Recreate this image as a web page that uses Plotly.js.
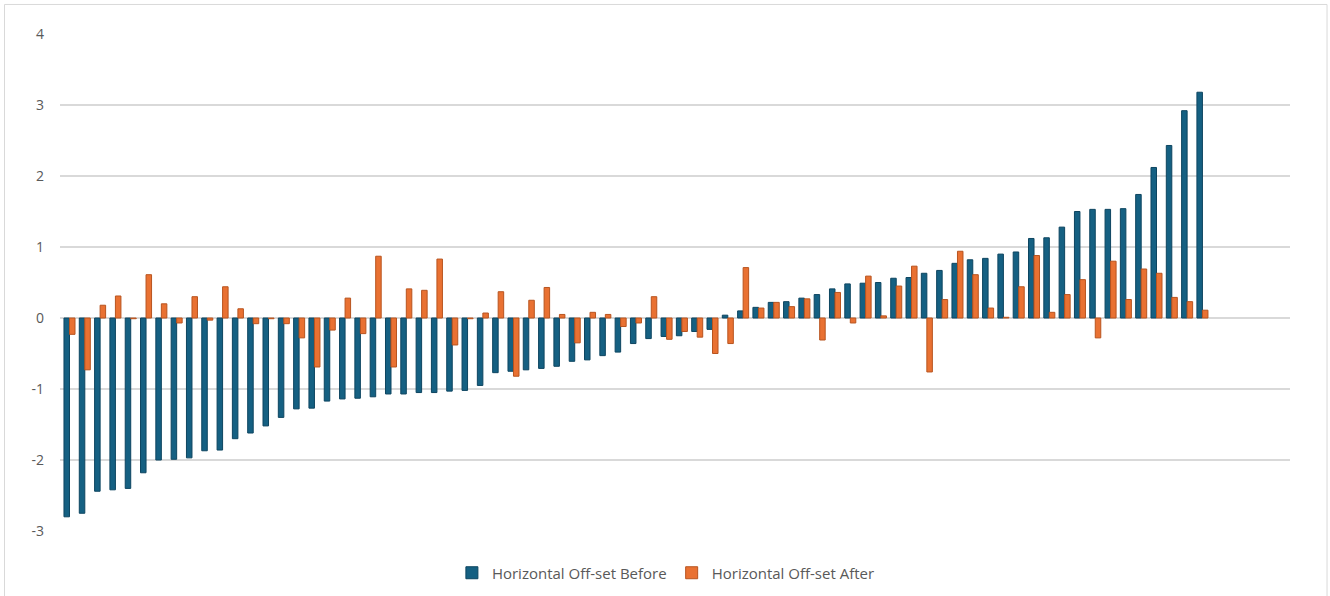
<!DOCTYPE html>
<html>
<head>
<meta charset="utf-8">
<script src="https://cdn.plot.ly/plotly-3.0.1.min.js"></script>
<style>
  html, body { margin: 0; padding: 0; background: #ffffff; }
  #chart { width: 1330px; height: 596px; }
</style>
</head>
<body>
<div id="chart"></div>
<script>
// Sample index (one group of two columns per sample)
const samples = Array.from({length: 75}, (_, i) => i + 1);

// Horizontal off-set before correction, sorted ascending
const offsetBefore = [
  -2.80, -2.75, -2.44, -2.42, -2.40, -2.18, -2.00, -1.99, -1.97, -1.87,
  -1.86, -1.70, -1.62, -1.52, -1.40, -1.28, -1.27, -1.17, -1.14, -1.13,
  -1.11, -1.07, -1.07, -1.05, -1.05, -1.03, -1.02, -0.95, -0.77, -0.75,
  -0.73, -0.71, -0.68, -0.61, -0.59, -0.53, -0.48, -0.36, -0.29, -0.26,
  -0.25, -0.19, -0.16, 0.04, 0.10, 0.15, 0.22, 0.23, 0.28, 0.33,
  0.41, 0.48, 0.49, 0.50, 0.56, 0.57, 0.63, 0.67, 0.77, 0.82,
  0.84, 0.90, 0.93, 1.12, 1.13, 1.28, 1.50, 1.53, 1.53, 1.54,
  1.74, 2.12, 2.43, 2.92, 3.18
];

// Horizontal off-set after correction, same samples
const offsetAfter = [
  -0.23, -0.73, 0.18, 0.31, -0.01, 0.61, 0.20, -0.07, 0.30, -0.03,
  0.44, 0.13, -0.08, -0.01, -0.08, -0.28, -0.69, -0.17, 0.28, -0.22,
  0.87, -0.69, 0.41, 0.39, 0.83, -0.38, -0.01, 0.07, 0.37, -0.82,
  0.25, 0.43, 0.05, -0.35, 0.08, 0.05, -0.12, -0.07, 0.30, -0.30,
  -0.19, -0.27, -0.50, -0.36, 0.71, 0.14, 0.22, 0.16, 0.27, -0.31,
  0.36, -0.07, 0.59, 0.03, 0.45, 0.73, -0.76, 0.26, 0.94, 0.61,
  0.14, 0.01, 0.44, 0.88, 0.08, 0.33, 0.54, -0.28, 0.80, 0.26,
  0.69, 0.63, 0.29, 0.23, 0.11
];

const seriesNames = ['Horizontal Off-set Before', 'Horizontal Off-set After'];
const yTicks = [-3, -2, -1, 0, 1, 2, 3, 4];

const textColor = '#595959';
const gridColor = '#D9D9D9';
const fontFamily = '"Open Sans", "Liberation Sans", Arial, sans-serif';

const traces = [
  {
    type: 'bar',
    name: seriesNames[0],
    x: samples,
    y: offsetBefore,
    marker: { color: '#156082', line: { color: '#0D4560', width: 1 } },
    hoverinfo: 'y'
  },
  {
    type: 'bar',
    name: seriesNames[1],
    x: samples,
    y: offsetAfter,
    marker: { color: '#E97132', line: { color: '#B8541F', width: 1 } },
    hoverinfo: 'y'
  }
];

const layout = {
  width: 1330,
  height: 596,
  margin: { l: 60, r: 40, t: 34, b: 65 },
  paper_bgcolor: '#ffffff',
  plot_bgcolor: '#ffffff',
  font: { family: fontFamily, size: 14, color: textColor },
  barmode: 'group',
  bargap: 0.28,
  bargroupgap: 0,
  showlegend: true,
  legend: {
    orientation: 'h',
    x: 0.4926,
    xanchor: 'center',
    yref: 'container',
    y: 0.0386,
    yanchor: 'middle',
    font: { family: fontFamily, size: 15, color: textColor },
    itemwidth: 30,
    traceorder: 'normal'
  },
  xaxis: {
    type: 'linear',
    range: [0.38, 80.72],
    showgrid: false,
    zeroline: false,
    showline: false,
    showticklabels: false,
    ticks: ''
  },
  yaxis: {
    range: [-3, 4],
    tickvals: yTicks,
    ticktext: yTicks.map(String),
    showgrid: true,
    gridcolor: gridColor,
    gridwidth: 1.5,
    zeroline: true,
    zerolinecolor: gridColor,
    zerolinewidth: 1.5,
    showline: false,
    ticks: '',
    ticklabelstandoff: 15,
    tickfont: { family: fontFamily, size: 14, color: textColor }
  },
  shapes: [
    {
      type: 'rect',
      xref: 'paper', yref: 'paper',
      x0: -0.0451, x1: 1.0301,
      y0: -0.14, y1: 1.0594,
      line: { color: '#D9D9D9', width: 1 },
      fillcolor: 'rgba(0,0,0,0)',
      layer: 'below'
    }
  ]
};

Plotly.newPlot('chart', traces, layout, { displayModeBar: false, staticPlot: true });
</script>
</body>
</html>
